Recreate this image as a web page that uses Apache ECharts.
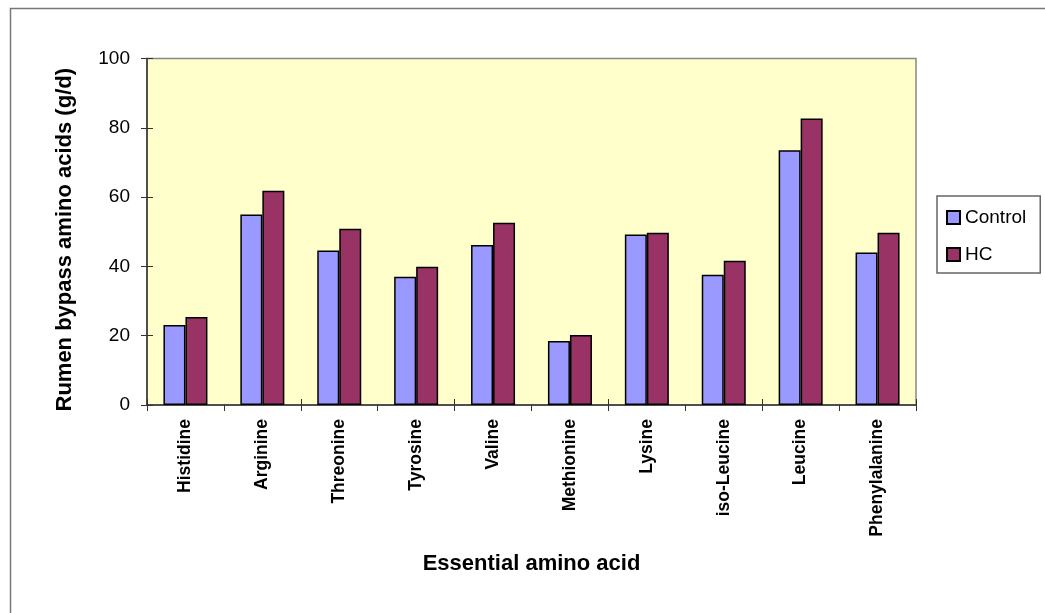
<!DOCTYPE html>
<html>
<head>
<meta charset="utf-8">
<script src="https://cdn.jsdelivr.net/npm/echarts@6/dist/echarts.min.js"></script>
<style>
html,body{margin:0;padding:0;background:#fff;}
#c{width:1045px;height:613px;}
</style>
</head>
<body>
<div id="c"></div>
<script>
var categories = ['Histidine','Arginine','Threonine','Tyrosine','Valine','Methionine','Lysine','iso-Leucine','Leucine','Phenylalanine'];
var controlValues = [23.1, 55.0, 44.6, 37.0, 46.2, 18.5, 49.2, 37.6, 73.5, 44.0];
var hcValues = [25.4, 61.8, 50.9, 39.9, 52.6, 20.2, 49.7, 41.6, 82.7, 49.7];
var seriesNames = ['Control', 'HC'];
var yTicks = {min: 0, max: 100, interval: 20};

var chart = echarts.init(document.getElementById('c'), null, {renderer: 'canvas'});
var font = '"Liberation Sans", Arial, sans-serif';
var axisColor = '#333';
chart.setOption({
  animation: false,
  backgroundColor: '#fff',
  textStyle: {fontFamily: font, color: '#000'},
  graphic: [{
    type: 'rect', silent: true, z: 100,
    shape: {x: 10.5, y: 8.5, width: 1100, height: 700},
    style: {fill: null, stroke: '#777', lineWidth: 1.5}
  }],
  grid: {
    left: 147, right: 129, top: 58.5, bottom: 208,
    show: true, backgroundColor: '#FFFFCC', borderColor: '#888', borderWidth: 1.5
  },
  legend: {
    orient: 'vertical', left: 937, top: 196,
    padding: [12, 14, 9, 9], itemGap: 18,
    borderColor: '#666', borderWidth: 1.5,
    icon: 'rect', itemWidth: 13, itemHeight: 13,
    textStyle: {fontFamily: font, fontSize: 19, color: '#000'},
    data: seriesNames
  },
  xAxis: [{
    type: 'category', data: categories,
    axisLine: {lineStyle: {color: axisColor, width: 1.5}},
    axisTick: {show: true, length: 6, lineStyle: {color: axisColor}},
    axisLabel: {rotate: 90, fontSize: 17.5, fontWeight: 'bold', margin: 14, color: '#000', fontFamily: font, interval: 0},
    name: 'Essential amino acid', nameLocation: 'middle', nameGap: 148,
    nameTextStyle: {fontSize: 22, fontWeight: 'bold', color: '#000', fontFamily: font}
  }, {
    type: 'category', data: categories, position: 'bottom',
    axisLine: {show: false},
    axisTick: {show: true, inside: true, length: 6, lineStyle: {color: axisColor}},
    axisLabel: {show: false}
  }],
  yAxis: [{
    type: 'value', min: yTicks.min, max: yTicks.max, interval: yTicks.interval,
    axisLine: {show: true, lineStyle: {color: axisColor, width: 1.5}},
    axisTick: {show: true, length: 6, lineStyle: {color: axisColor}},
    splitLine: {show: false},
    axisLabel: {fontSize: 19, color: '#000', margin: 17, fontFamily: font},
    name: 'Rumen bypass amino acids (g/d)', nameLocation: 'middle', nameGap: 71, nameRotate: 90,
    nameTextStyle: {fontSize: 22, fontWeight: 'bold', color: '#000', fontFamily: font, padding: [0, 16, 0, 0]}
  }, {
    type: 'value', min: yTicks.min, max: yTicks.max, interval: yTicks.interval, position: 'left',
    axisLine: {show: false},
    axisTick: {show: true, inside: true, length: 6, lineStyle: {color: axisColor}},
    splitLine: {show: false},
    axisLabel: {show: false}
  }],
  series: [{
    name: seriesNames[0], type: 'bar', data: controlValues,
    xAxisIndex: 0, yAxisIndex: 0,
    barWidth: 22, barGap: '0%',
    itemStyle: {color: '#9999FF', borderColor: '#000', borderWidth: 1.5}
  }, {
    name: seriesNames[1], type: 'bar', data: hcValues,
    xAxisIndex: 0, yAxisIndex: 0,
    barWidth: 22, barGap: '0%',
    itemStyle: {color: '#993366', borderColor: '#000', borderWidth: 1.5}
  }]
});
</script>
</body>
</html>
